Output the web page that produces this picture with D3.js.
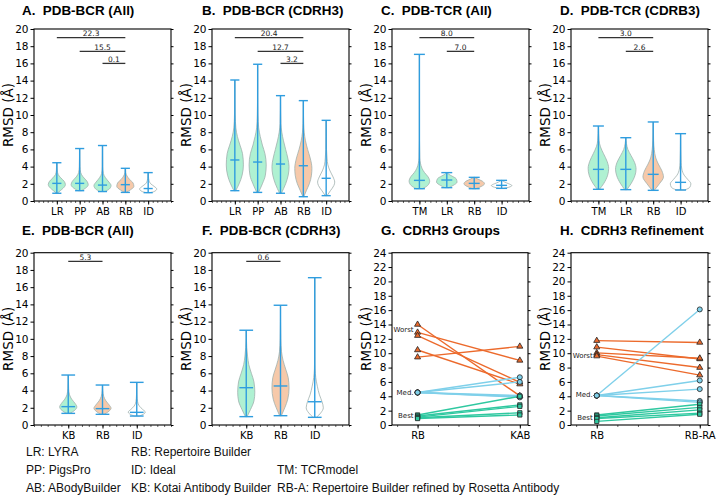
<!DOCTYPE html>
<html><head><meta charset="utf-8">
<script src="https://cdn.jsdelivr.net/npm/d3@7"></script>
<style>body{margin:0;background:#fff}svg{display:block}text{white-space:pre}</style>
</head><body>
<svg id="c" width="716" height="499"></svg>
<script>
// ---------------- DATA ----------------
const titles = ["A.  PDB-BCR (All)","B.  PDB-BCR (CDRH3)","C.  PDB-TCR (All)","D.  PDB-TCR (CDRB3)",
                "E.  PDB-BCR (All)","F.  PDB-BCR (CDRH3)","G.  CDRH3 Groups","H.  CDRH3 Refinement"];
const catsA = ["LR","PP","AB","RB","ID"];
const catsB = ["LR","PP","AB","RB","ID"];
const catsC = ["TM","LR","RB","ID"];
const catsD = ["TM","LR","RB","ID"];
const catsE = ["KB","RB","ID"];
const catsF = ["KB","RB","ID"];
const violinTicks = [0,2,4,6,8,10,12,14,16,18,20];
const lineTicks = [0,2,4,6,8,10,12,14,16,18,20,22,24];

// violin: min, max, median, profile [[rmsd, relative width]]
const violinsA = [
 {min:0.9,max:4.45,med:2.05,prof:[[0.9,0.05],[1.2,0.4],[1.5,0.75],[1.9,1.0],[2.3,0.85],[2.7,0.45],[3.1,0.15],[3.6,0.05],[4.45,0.02]]},
 {min:1.2,max:6.1,med:2.05,prof:[[1.2,0.2],[1.5,0.7],[1.9,1.0],[2.3,0.85],[2.8,0.4],[3.3,0.12],[4,0.04],[5,0.02],[6.1,0.01]]},
 {min:1.1,max:6.45,med:1.85,prof:[[1.1,0.3],[1.4,0.8],[1.8,1.0],[2.2,0.75],[2.7,0.35],[3.2,0.1],[4,0.03],[6.45,0.01]]},
 {min:1.0,max:3.8,med:1.9,prof:[[1.0,0.1],[1.3,0.6],[1.7,1.0],[2.1,0.9],[2.5,0.5],[2.9,0.2],[3.3,0.05],[3.8,0.02]]},
 {min:0.97,max:3.3,med:1.45,prof:[[0.97,0.2],[1.1,0.7],[1.4,1.0],[1.7,0.7],[2.0,0.3],[2.4,0.1],[2.8,0.04],[3.3,0.01]]}
];
const violinsB = [
 {min:1.2,max:14.07,med:4.77,prof:[[1.2,0.1],[2,0.5],[3,0.85],[4.2,1.0],[5.5,0.9],[6.5,0.6],[7.5,0.3],[8.5,0.12],[10,0.04],[12,0.01],[14.07,0.005]]},
 {min:1.0,max:15.9,med:4.53,prof:[[1.0,0.1],[2,0.55],[3,0.9],[4.2,1.0],[5.5,0.85],[6.5,0.55],[7.5,0.3],[8.5,0.12],[10,0.04],[12,0.01],[15.9,0.005]]},
 {min:0.9,max:12.25,med:4.3,prof:[[0.9,0.1],[2,0.6],[3,0.9],[4,1.0],[5,0.85],[6,0.6],[7,0.35],[8,0.15],[9,0.05],[10.5,0.02],[12.25,0.005]]},
 {min:0.5,max:11.67,med:4.1,prof:[[0.5,0.05],[1.2,0.35],[2,0.7],[3,0.95],[3.8,1.0],[5,0.8],[6,0.5],[7,0.25],[8,0.1],[9,0.04],[10.5,0.01],[11.67,0.005]]},
 {min:0.62,max:9.38,med:2.64,prof:[[0.62,0.1],[1.2,0.5],[1.8,0.9],[2.2,1.0],[2.8,0.8],[3.5,0.45],[4.2,0.2],[5,0.1],[6,0.04],[7.5,0.02],[9.38,0.005]]}
];
const violinsC = [
 {min:1.43,max:17.05,med:2.4,prof:[[1.43,0.3],[1.8,0.8],[2.3,1.0],[2.8,0.85],[3.3,0.5],[3.8,0.25],[4.4,0.1],[5,0.04],[7,0.01],[17.05,0.005]]},
 {min:1.55,max:3.3,med:2.44,prof:[[1.55,0.2],[1.8,0.6],[2.2,1.0],[2.6,0.9],[2.9,0.5],[3.1,0.2],[3.3,0.05]]},
 {min:1.43,max:2.75,med:2.05,prof:[[1.43,0.15],[1.7,0.7],[2.0,1.0],[2.3,0.8],[2.55,0.35],[2.75,0.05]]},
 {min:1.47,max:2.4,med:1.82,prof:[[1.47,0.2],[1.6,0.7],[1.8,1.0],[2.0,0.7],[2.2,0.3],[2.4,0.05]]}
];
const violinsD = [
 {min:1.36,max:8.72,med:3.68,prof:[[1.36,0.1],[2,0.5],[3,0.9],[3.8,1.0],[4.6,0.85],[5.5,0.5],[6.3,0.2],[7,0.07],[8.72,0.01]]},
 {min:1.32,max:7.36,med:3.68,prof:[[1.32,0.1],[2,0.5],[3,0.9],[3.7,1.0],[4.5,0.85],[5.3,0.5],[6,0.2],[6.7,0.06],[7.36,0.01]]},
 {min:1.24,max:9.19,med:3.1,prof:[[1.24,0.1],[2,0.6],[2.8,1.0],[3.5,0.85],[4.3,0.5],[5,0.25],[6,0.1],[7,0.04],[9.19,0.005]]},
 {min:1.28,max:7.83,med:2.17,prof:[[1.28,0.4],[1.6,0.9],[2,1.0],[2.5,0.7],[3,0.35],[3.7,0.12],[4.5,0.05],[6,0.02],[7.83,0.005]]}
];
const violinsE = [
 {min:1.35,max:5.8,med:2.13,prof:[[1.35,0.2],[1.7,0.75],[2.1,1.0],[2.5,0.8],[3,0.4],[3.5,0.15],[4.2,0.05],[5.8,0.01]]},
 {min:1.24,max:4.64,med:1.9,prof:[[1.24,0.2],[1.6,0.75],[1.95,1.0],[2.3,0.8],[2.8,0.4],[3.3,0.15],[4,0.04],[4.64,0.01]]},
 {min:1.04,max:4.95,med:1.47,prof:[[1.04,0.3],[1.3,0.85],[1.5,1.0],[1.8,0.7],[2.2,0.3],[2.7,0.1],[3.5,0.03],[4.95,0.005]]}
];
const violinsF = [
 {min:0.97,max:11.0,med:4.33,prof:[[0.97,0.1],[1.8,0.5],[2.8,0.9],[3.8,1.0],[5,0.9],[6,0.6],[7,0.3],[8,0.15],[9,0.06],[10,0.02],[11,0.005]]},
 {min:1.08,max:13.9,med:4.53,prof:[[1.08,0.1],[2,0.5],[3,0.85],[4.3,1.0],[5.5,0.9],[6.5,0.6],[7.5,0.3],[8.5,0.12],[10,0.04],[12,0.01],[13.9,0.005]]},
 {min:0.89,max:17.1,med:2.7,prof:[[0.89,0.2],[1.4,0.7],[2,1.0],[2.7,0.85],[3.5,0.55],[4.5,0.3],[5.5,0.12],[6.5,0.04],[8,0.01],[17.1,0.003]]}
];
// significance bars: [from, to, level, label]
const sigA = [["LR","RB",19.0,"22.3"],["PP","RB",17.4,"15.5"],["AB","RB",16.0,"0.1"]];
const sigB = [["LR","RB",19.0,"20.4"],["PP","RB",17.4,"12.7"],["AB","RB",16.0,"3.2"]];
const sigC = [["TM","RB",19.0,"8.0"],["LR","RB",17.4,"7.0"]];
const sigD = [["TM","RB",19.0,"3.0"],["LR","RB",17.4,"2.6"]];
const sigE = [["KB","RB",19.0,"5.3"]];
const sigF = [["KB","RB",19.0,"0.6"]];

// paired line panels
const catsG = ["RB","KAB"];
const catsH = ["RB","RB-RA"];
const gWorstRB  = [14.0,12.9,12.45,10.45,9.45];
const gWorstKAB = [4.05,9.0,5.95,5.7,10.95];
const gMedRB    = [4.53,4.53,4.53,4.53,4.53];
const gMedKAB   = [6.65,6.0,4.1,3.95,3.85];
const gBestRB   = [1.4,1.25,1.1,1.0,0.9];
const gBestKAB  = [4.0,2.8,2.6,1.7,1.4];
const hWorstRB  = [11.75,10.85,10.05,9.8,9.6];
const hWorstRA  = [11.5,9.2,9.3,8.0,6.95];
const hMedRB    = [4.1,4.1,4.1,4.1,4.1];
const hMedRA    = [16.1,6.2,5.0,3.35,3.15];
const hBestRB   = [1.4,1.25,1.0,0.9,0.5];
const hBestRA   = [2.9,2.45,2.1,1.65,1.5];
const groupLabels = ["Worst","Med.","Best"];
const gLabelY = [13.3,4.5,1.35];
const hLabelY = [9.7,4.2,1.0];

const legendCol1 = ["LR: LYRA","PP: PigsPro","AB: ABodyBuilder"];
const legendCol2 = ["RB: Repertoire Builder","ID: Ideal","KB: Kotai Antibody Builder"];
const legendCol3 = ["","TM: TCRmodel","RB-A: Repertoire Builder refined by Rosetta Antibody"];

// ---------------- DRAW ----------------
const svg = d3.select("#c");
const TICKFONT = "DejaVu Sans, sans-serif";
const BLUE = "#2f9ddf";
function violinFill(c){ return c==="RB" ? "#f5c3a1" : (c==="ID" ? "#ffffff" : "#a6f0cd"); }

function frameAndAxes(g, x, y, cats, positions, box, ticks, titleText, titleX, titleY){
  const ya = g.append("g").attr("transform",`translate(${box.l},0)`)
    .call(d3.axisLeft(y).tickValues(ticks).tickSize(3.5).tickPadding(2).tickFormat(d3.format("d")));
  ya.select(".domain").remove();
  ya.selectAll("text").attr("font-family",TICKFONT).attr("font-size",10.5).attr("fill","#000");
  const yr = g.append("g").attr("transform",`translate(${box.r},0)`)
    .call(d3.axisRight(y).tickValues(ticks).tickSize(2.5).tickFormat(""));
  yr.select(".domain").remove();
  const dom = x.domain();
  const minor = d3.range(Math.ceil(dom[0]*5)/5, dom[1]+1e-9, 0.2);
  const xm = g.append("g").attr("transform",`translate(0,${box.b})`)
    .call(d3.axisBottom(x).tickValues(minor).tickSize(2).tickFormat(""));
  xm.select(".domain").remove();
  xm.selectAll("line").attr("stroke-width",0.6);
  const xa = g.append("g").attr("transform",`translate(0,${box.b})`)
    .call(d3.axisBottom(x).tickValues(positions).tickSize(3.5).tickPadding(3.5).tickFormat((d,i)=>cats[i]));
  xa.select(".domain").remove();
  xa.selectAll("text").attr("font-family",TICKFONT).attr("font-size",10).attr("fill","#000");
  g.append("rect").attr("x",box.l).attr("y",box.t).attr("width",box.r-box.l).attr("height",box.b-box.t)
    .attr("fill","none").attr("stroke","#000").attr("stroke-width",1.1);
  g.append("text").attr("transform",`translate(${box.l-21},${(box.t+box.b)/2}) rotate(-90)`)
    .attr("text-anchor","middle").attr("font-family",TICKFONT).attr("font-size",13.5).text("RMSD (Å)");
  g.append("text").attr("x",titleX).attr("y",titleY).attr("font-family","Liberation Sans, Arial, sans-serif")
    .attr("font-weight","bold").attr("font-size",13.4).text(titleText);
}

function violinPanel(idx, cats, violins, sig, box, widthUnits, titleX, titleY){
  const g = svg.append("g");
  const n = cats.length;
  const x = d3.scaleLinear().domain([0,n+1]).range([box.l,box.r]);
  const y = d3.scaleLinear().domain([0,20]).range([box.b,box.t]);
  const positions = d3.range(1,n+1);
  const hw = (x(widthUnits/2)-x(0));
  const capw = (x(0.2)-x(0));
  violins.forEach((v,i)=>{
    const cx = x(positions[i]);
    const area = d3.area().y(d=>y(d[0])).x0(d=>cx-hw*d[1]).x1(d=>cx+hw*d[1]).curve(d3.curveMonotoneY);
    g.append("path").attr("d",area(v.prof)).attr("fill",violinFill(cats[i])).attr("fill-opacity",0.9)
      .attr("stroke","#9fb0ad").attr("stroke-width",0.8);
  });
  violins.forEach((v,i)=>{
    const cx = x(positions[i]);
    g.append("line").attr("x1",cx).attr("x2",cx).attr("y1",y(v.min)).attr("y2",y(v.max))
      .attr("stroke",BLUE).attr("stroke-width",1.4);
    [v.min,v.max,v.med].forEach(val=>{
      g.append("line").attr("x1",cx-capw).attr("x2",cx+capw).attr("y1",y(val)).attr("y2",y(val))
        .attr("stroke",BLUE).attr("stroke-width",1.4);
    });
  });
  sig.forEach(s=>{
    const x1 = x(cats.indexOf(s[0])+1), x2 = x(cats.indexOf(s[1])+1);
    g.append("line").attr("x1",x1).attr("x2",x2).attr("y1",y(s[2])).attr("y2",y(s[2]))
      .attr("stroke","#333").attr("stroke-width",1.3);
    g.append("text").attr("x",(x1+x2)/2).attr("y",y(s[2])-1.8).attr("text-anchor","middle")
      .attr("font-family",TICKFONT).attr("font-size",7.5).attr("fill","#222").text(s[3]);
  });
  frameAndAxes(g,x,y,cats,positions,box,violinTicks,titles[idx],titleX,titleY);
}

function linePanel(idx, cats, groups, labelYs, box, titleX, titleY){
  const g = svg.append("g");
  const x = d3.scaleLinear().domain([-0.25,1.08]).range([box.l,box.r]);
  const y = d3.scaleLinear().domain([0,24]).range([box.b,box.t]);
  const styles = [
    {c:"#ec6a2c", sym:d3.symbolTriangle, size:16},
    {c:"#7fd0ea", sym:d3.symbolCircle, size:20},
    {c:"#2fc8a0", sym:d3.symbolSquare, size:18}
  ];
  groups.forEach((gr,k)=>{
    gr[0].forEach((a,i)=>{
      g.append("line").attr("x1",x(0)).attr("x2",x(1)).attr("y1",y(a)).attr("y2",y(gr[1][i]))
        .attr("stroke",styles[k].c).attr("stroke-width",1.4);
    });
  });
  groups.forEach((gr,k)=>{
    const sym = d3.symbol().type(styles[k].sym).size(styles[k].size);
    [0,1].forEach(p=>{
      gr[p].forEach(val=>{
        g.append("path").attr("d",sym()).attr("transform",`translate(${x(p)},${y(val)})`)
          .attr("fill",styles[k].c).attr("stroke","#222").attr("stroke-width",0.8);
      });
    });
  });
  groupLabels.forEach((t,k)=>{
    g.append("text").attr("x",x(0)-4).attr("y",y(labelYs[k])).attr("dy","0.35em").attr("text-anchor","end")
      .attr("font-family",TICKFONT).attr("font-size",7).attr("fill","#222").text(t);
  });
  frameAndAxes(g,x,y,cats,[0,1],box,lineTicks,titles[idx],titleX,titleY);
}

const R1 = {t:29, b:201}, R2 = {t:252.7, b:425};
violinPanel(0,catsA,violinsA,sigA,{l:34,r:171,...R1},0.75,22,15);
violinPanel(1,catsB,violinsB,sigB,{l:212,r:349,...R1},0.75,202,15);
violinPanel(2,catsC,violinsC,sigC,{l:392,r:529,...R1},0.75,381,15);
violinPanel(3,catsD,violinsD,sigD,{l:571,r:708,...R1},0.75,560,15);
violinPanel(4,catsE,violinsE,sigE,{l:34,r:171,...R2},0.5,22,235);
violinPanel(5,catsF,violinsF,sigF,{l:212,r:349,...R2},0.5,202,235);
linePanel(6,catsG,[[gWorstRB,gWorstKAB],[gMedRB,gMedKAB],[gBestRB,gBestKAB]],gLabelY,{l:392,r:528,...R2},381,235);
linePanel(7,catsH,[[hWorstRB,hWorstRA],[hMedRB,hMedRA],[hBestRB,hBestRA]],hLabelY,{l:571,r:708,...R2},560,235);

const lg = svg.append("g").attr("font-family","Liberation Sans, Arial, sans-serif").attr("font-size",12).attr("fill","#111");
[[legendCol1,26],[legendCol2,131],[legendCol3,277]].forEach(([col,xx])=>{
  col.forEach((t,i)=>{ if(t) lg.append("text").attr("x",xx).attr("y",456+i*18).text(t); });
});
</script>
</body></html>
